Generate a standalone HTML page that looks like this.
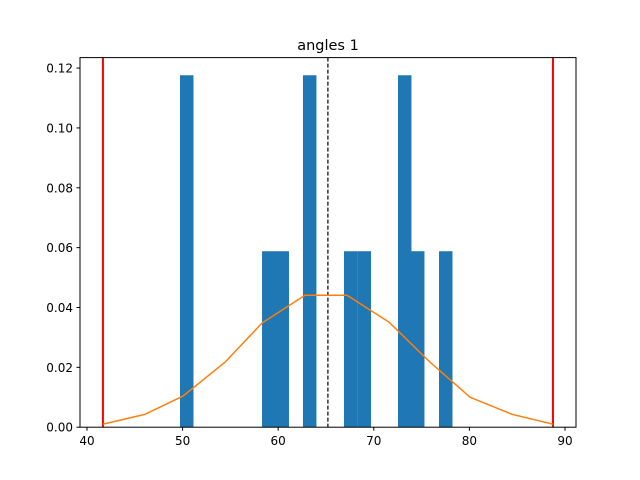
<!DOCTYPE html>
<html><head><meta charset="utf-8"><style>
html,body{margin:0;padding:0;background:#fff;}
svg{display:block;font-family:"DejaVu Sans","Liberation Sans",sans-serif;}
</style></head><body>
<svg id="chart" width="640" height="480">
<rect width="640" height="480" fill="#fff"/>
<text x="328" y="50" text-anchor="middle" font-size="14.5">angles 1</text>
<g id="marks"></g>
<g id="axes"></g>
</svg>
<script>
const binLefts=[49.73,58.31,59.72,62.59,66.88,68.30,72.53,73.89,76.82];
const binHeights=[0.1176,0.0588,0.0588,0.1176,0.0588,0.0588,0.1176,0.0588,0.0588];
const binWidth=1.41;
const curveX=[41.67,46.07,50.04,54.44,58.31,62.80,67.20,71.6,75.89,80.08,84.46,88.74];
const curveY=[0.001,0.0043,0.0104,0.0217,0.0348,0.0441,0.0441,0.0351,0.0217,0.01,0.0043,0.001];
const redLines=[41.67,88.74];
const meanLine=[65.2];
const xTicks=[40,50,60,70,80,90];
const yTicks=[0,0.02,0.04,0.06,0.08,0.10,0.12];
const yTickLabels=["0.00","0.02","0.04","0.06","0.08","0.10","0.12"];

const L=80,R=576,T=57.6,B=427.2;
const x0=39.27,x1=91.15,y0=0,y1=0.1235;
const sx=v=>L+(v-x0)/(x1-x0)*(R-L);
const sy=v=>B-(v-y0)/(y1-y0)*(B-T);
const NS="http://www.w3.org/2000/svg";
const marks=document.getElementById('marks'),axes=document.getElementById('axes');
function mk(tag,attrs,parent){const e=document.createElementNS(NS,tag);for(const k in attrs)e.setAttribute(k,attrs[k]);parent.appendChild(e);return e;}

binLefts.forEach((b,i)=>{
 const r=mk('rect',{x:sx(b),y:sy(binHeights[i]),width:sx(b+binWidth)-sx(b),height:sy(0)-sy(binHeights[i]),fill:'#1f77b4'},marks);
 
 
});
meanLine.forEach(v=>{
 const l=mk('line',{x1:sx(v),x2:sx(v),y1:T,y2:B,stroke:'#000','stroke-width':1.2,'stroke-dasharray':'4,2'},marks);
 
 
});
redLines.forEach(v=>{
 const l=mk('line',{x1:sx(v),x2:sx(v),y1:T,y2:B,stroke:'#ff0000','stroke-width':2},marks);
 
 
});
const p=mk('polyline',{points:curveX.map((x,i)=>sx(x)+','+sy(curveY[i])).join(' '),fill:'none',stroke:'#ff7f0e','stroke-width':1.5},marks);



const fr=mk('rect',{x:L,y:T,width:R-L,height:B-T,fill:'none',stroke:'#000','stroke-width':1},axes);


xTicks.forEach(v=>{
 mk('line',{x1:sx(v),x2:sx(v),y1:B,y2:B+3.5,stroke:'#000'},axes);
 const t=mk('text',{x:sx(v),y:B+18,'text-anchor':'middle','font-size':12},axes);
 t.textContent=v;
 
 
});
yTicks.forEach((v,i)=>{
 mk('line',{x1:L-3.5,x2:L,y1:sy(v),y2:sy(v),stroke:'#000'},axes);
 const t=mk('text',{x:L-7,y:sy(v)+4.5,'text-anchor':'end','font-size':12},axes);
 t.textContent=yTickLabels[i];
 
 
});
</script>
</body></html>
